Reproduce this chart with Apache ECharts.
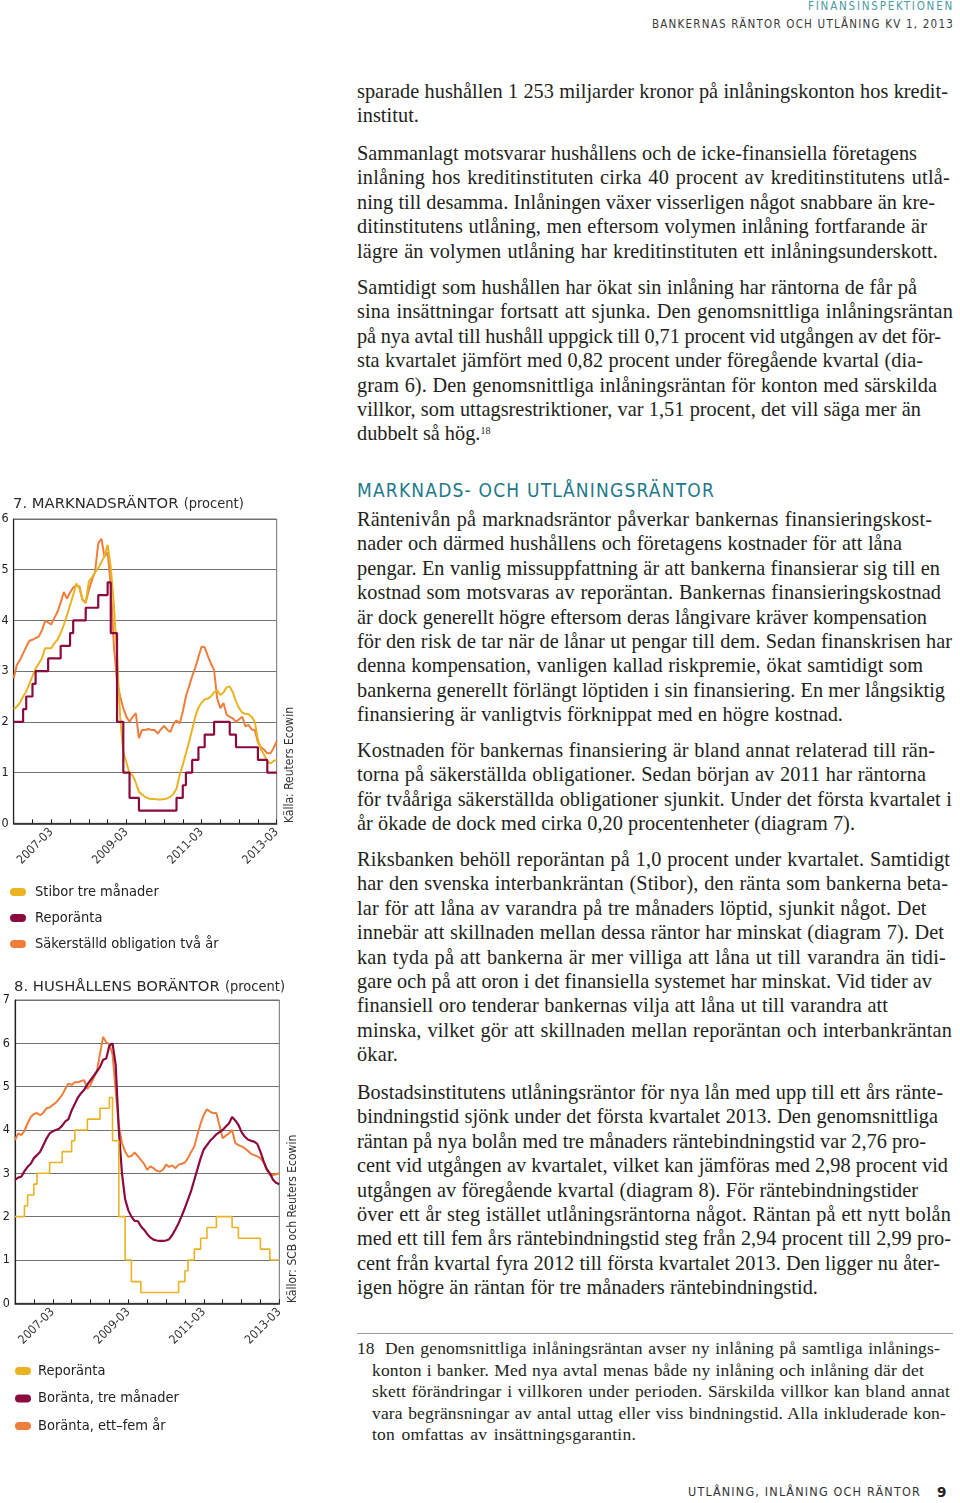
<!DOCTYPE html>
<html><head><meta charset="utf-8">
<script src="https://cdn.jsdelivr.net/npm/echarts@6/dist/echarts.min.js"></script>
<style>
html,body{margin:0;padding:0;background:#fff;}
body{width:960px;height:1503px;position:relative;overflow:hidden;}
.t{position:absolute;white-space:nowrap;}
.t span{display:inline-block;}
.body{font-family:"Liberation Serif","DejaVu Serif",serif;font-size:20.3px;line-height:24px;color:#231f20;}
.foot{font-family:"Liberation Serif","DejaVu Serif",serif;font-size:17.5px;line-height:20px;color:#231f20;}
.hdr1{font-family:"DejaVu Sans Condensed","DejaVu Sans",sans-serif;font-size:11.5px;line-height:14px;color:#4c9aa5;}
.hdr2{font-family:"DejaVu Sans Condensed","DejaVu Sans",sans-serif;font-size:11.5px;line-height:14px;color:#3a3a3a;}
.h2{font-family:"DejaVu Sans Condensed","DejaVu Sans",sans-serif;font-size:19px;line-height:24px;color:#23798b;}
.ftr{font-family:"DejaVu Sans Condensed","DejaVu Sans",sans-serif;font-size:12.5px;line-height:16px;color:#333;}
.ftrb{font-family:"DejaVu Sans","DejaVu Sans Condensed",sans-serif;font-size:13.5px;line-height:16px;color:#222;font-weight:bold;}
sup{font-size:10px;line-height:0;vertical-align:6px;}
#rule{position:absolute;left:357px;top:1333px;width:596px;height:1px;background:#9a9a9a;}
#c7{position:absolute;left:0;top:470px;width:330px;height:500px;}
#c8{position:absolute;left:0;top:965px;width:330px;height:490px;}
</style>
</head>
<body>
<div id="c7"></div>
<div id="c8"></div>
<div id="rule"></div>
<script>
// ---------------- chart data ----------------
const startYear = 2006, startMonth = 3, monthCount = 85; // 2006-03 .. 2013-03
const months = [];
for (let i = 0; i < monthCount; i++) {
  const mm = startMonth - 1 + i;
  const y = startYear + Math.floor(mm / 12);
  const m = (mm % 12) + 1;
  months.push(y + '-' + (m < 10 ? '0' + m : m));
}

// Diagram 7 / Diagram 8 : Reporänta (shared)
const repo = [
  2.0,2.0,2.0,2.25,2.5,2.5,2.75,3.0,3.0,3.0,
  3.0,3.25,3.25,3.25,3.25,3.5,3.5,3.5,3.75,4.0,
  4.0,4.0,4.0,4.25,4.25,4.25,4.25,4.5,4.5,4.5,
  4.75,3.75,3.75,2.0,2.0,1.0,1.0,0.5,0.5,0.5,
  0.25,0.25,0.25,0.25,0.25,0.25,0.25,0.25,0.25,0.25,
  0.25,0.25,0.5,0.5,0.75,1.0,1.0,1.25,1.25,1.5,
  1.5,1.75,1.75,1.75,2.0,2.0,2.0,2.0,2.0,1.75,
  1.75,1.5,1.5,1.5,1.5,1.5,1.5,1.5,1.25,1.25,
  1.25,1.0,1.0,1.0,1.0
];
// Diagram 7 : Stibor tre månader
const stibor3m = [
  2.25,2.3,2.38,2.5,2.6,2.75,2.9,3.05,3.15,3.25,
  3.45,3.45,3.45,3.55,3.62,3.75,3.91,4.1,4.3,4.5,
  4.73,4.63,4.4,4.34,4.77,4.85,4.95,5.03,5.15,5.26,
  5.49,5.05,4.3,3.3,2.1,1.4,1.2,0.98,0.95,0.8,
  0.62,0.57,0.52,0.49,0.48,0.48,0.47,0.47,0.48,0.49,
  0.52,0.58,0.68,0.95,1.15,1.38,1.6,1.85,2.1,2.28,
  2.38,2.44,2.46,2.5,2.58,2.62,2.53,2.58,2.68,2.7,
  2.58,2.4,2.27,2.18,2.16,2.15,2.1,2.0,1.65,1.45,
  1.35,1.22,1.18,1.23,1.25
];
// Diagram 7 : Säkerställd obligation två år
const coveredBond2y = [
  2.86,3.12,3.22,3.35,3.48,3.6,3.62,3.65,3.68,3.8,
  3.99,3.96,3.92,4.05,4.17,4.35,4.56,4.43,4.55,4.65,
  4.69,4.67,4.4,4.36,4.6,4.8,4.96,5.52,5.61,5.26,
  5.34,4.7,3.5,2.8,2.5,2.27,2.1,2.0,2.1,2.17,
  1.68,1.84,1.84,1.86,1.84,1.84,1.77,1.85,1.92,1.85,
  1.8,1.95,2.03,1.97,2.2,2.5,2.7,2.9,3.07,3.28,
  3.48,3.47,3.3,3.15,3.02,2.46,2.27,2.37,2.14,2.1,
  2.07,2.0,2.05,2.1,1.91,1.94,1.85,1.84,1.6,1.5,
  1.45,1.38,1.38,1.48,1.62
];
// Diagram 8 : Boränta, tre månader
const mortgage3m = [
  2.85,2.9,2.92,3.05,3.15,3.22,3.35,3.42,3.5,3.65,
  3.8,3.92,3.97,4.0,4.03,4.1,4.2,4.25,4.45,4.6,
  4.75,4.85,4.93,5.05,5.15,5.25,5.35,5.45,5.62,5.65,
  5.95,6.0,5.5,4.0,3.0,2.4,2.15,2.0,1.9,1.9,
  1.78,1.7,1.6,1.52,1.47,1.45,1.44,1.44,1.45,1.48,
  1.58,1.71,1.85,2.02,2.2,2.4,2.6,2.85,3.1,3.35,
  3.55,3.65,3.75,3.82,3.9,3.95,4.0,4.08,4.15,4.3,
  4.22,4.12,3.95,3.85,3.78,3.75,3.73,3.68,3.5,3.28,
  3.1,3.0,2.85,2.78,2.75
];
// Diagram 8 : Boränta, ett–fem år
const mortgage1to5y = [
  3.77,3.92,3.88,3.98,4.15,4.3,4.37,4.39,4.34,4.4,
  4.5,4.52,4.58,4.63,4.72,4.81,4.95,5.07,5.04,5.1,
  5.1,5.13,5.15,4.95,5.05,5.2,5.35,5.75,6.15,6.02,
  5.98,5.75,4.9,4.1,3.7,3.5,3.38,3.4,3.48,3.4,
  3.31,3.22,3.08,3.16,3.12,3.06,3.04,3.08,3.2,3.15,
  3.18,3.12,3.2,3.22,3.25,3.35,3.5,3.62,3.9,4.15,
  4.35,4.48,4.42,4.39,4.39,4.1,3.81,3.87,3.92,4.0,
  3.7,3.65,3.62,3.58,3.52,3.45,3.42,3.39,3.35,3.25,
  3.08,2.96,2.96,2.98,3.0
];
const yTicks7 = [0, 6, 1];   // min, max, interval
const yTicks8 = [0, 7, 1];

const C_YELLOW = '#E9B322', C_MAROON = '#8C0B3F', C_ORANGE = '#EF7E3D';
const FONT_C = '"DejaVu Sans Condensed","DejaVu Sans",sans-serif';
const PILL = 'path://M4 0H12A4 4 0 0 1 12 8H4A4 4 0 0 1 4 0Z';

function lineSeries(name, data, color, width, step) {
  const s = {
    name: name, type: 'line', data: data, symbol: 'none', silent: true,
    itemStyle: { color: color }, lineStyle: { color: color, width: width },
    emphasis: { disabled: true }
  };
  if (step) s.step = 'end';
  return s;
}

function baseAxes(yt) {
  return {
    xAxis: {
      type: 'category', data: months, boundaryGap: false,
      axisLine: { lineStyle: { color: '#222', width: 1.5 } },
      axisTick: { inside: true, length: 4, interval: (i) => i % 6 === 0, lineStyle: { color: '#222' } },
      axisLabel: { interval: (i) => i % 24 === 12, rotate: 45, fontSize: 12, color: '#333', margin: 7, fontFamily: FONT_C, showMaxLabel: true },
      splitLine: { show: false }
    },
    yAxis: {
      type: 'value', min: yt[0], max: yt[1], interval: yt[2],
      axisLine: { show: true, lineStyle: { color: '#222', width: 1.2 } },
      axisTick: { show: false },
      axisLabel: { fontSize: 12.5, color: '#222', margin: 5, fontFamily: FONT_C },
      splitLine: { lineStyle: { color: '#727272', width: 1 } }
    }
  };
}

function titleRich() {
  return { rich: {
    a: { fontFamily: '"DejaVu Sans",sans-serif', fontSize: 14.8, fontWeight: 'normal', color: '#2b2b2b' },
    b: { fontFamily: FONT_C, fontSize: 14.5, fontWeight: 'normal', color: '#2b2b2b' } },
    fontWeight: 'normal' };
}

// ----- Diagram 7 -----
const c7 = echarts.init(document.getElementById('c7'), null, { renderer: 'canvas' });
const ax7 = baseAxes(yTicks7);
c7.setOption({
  animation: false,
  textStyle: { fontFamily: FONT_C },
  title: { left: 13, top: 25, padding: 0, text: '{a|7. MARKNADSRÄNTOR} {b|(procent)}', textStyle: titleRich() },
  legend: {
    orient: 'vertical', left: 10, top: 414, padding: 0, itemWidth: 16, itemHeight: 8, itemGap: 10,
    icon: PILL, selectedMode: false,
    data: ['Stibor tre månader', 'Reporänta', 'Säkerställd obligation två år'],
    textStyle: { fontSize: 14.5, lineHeight: 16, color: '#222', fontFamily: FONT_C, padding: [0, 0, 0, 4] }
  },
  grid: { left: 13.7, top: 49, width: 263, height: 304.3, show: true, borderColor: '#6e6e6e', borderWidth: 1, outerBoundsMode: 'none' },
  xAxis: ax7.xAxis, yAxis: ax7.yAxis,
  series: [
    lineSeries('Säkerställd obligation två år', coveredBond2y, C_ORANGE, 2),
    lineSeries('Stibor tre månader', stibor3m, C_YELLOW, 2),
    lineSeries('Reporänta', repo, C_MAROON, 2.2, true)
  ],
  graphic: [{
    type: 'text', x: 290, y: 353, rotation: Math.PI / 2, silent: true,
    style: { text: 'Källa: Reuters Ecowin', fontSize: 12, fill: '#333', fontFamily: FONT_C, align: 'left', verticalAlign: 'middle' }
  }]
});

// ----- Diagram 8 -----
const c8 = echarts.init(document.getElementById('c8'), null, { renderer: 'canvas' });
const ax8 = baseAxes(yTicks8);
c8.setOption({
  animation: false,
  textStyle: { fontFamily: FONT_C },
  title: { left: 14, top: 13, padding: 0, text: '{a|8. HUSHÅLLENS BORÄNTOR} {b|(procent)}', textStyle: titleRich() },
  legend: {
    orient: 'vertical', left: 15, top: 398, padding: 0, itemWidth: 16, itemHeight: 8, itemGap: 11.5,
    icon: PILL, selectedMode: false,
    data: ['Reporänta', 'Boränta, tre månader', 'Boränta, ett–fem år'],
    textStyle: { fontSize: 14.5, lineHeight: 16, color: '#222', fontFamily: FONT_C, padding: [0, 0, 0, 2] }
  },
  grid: { left: 15, top: 35, width: 264.3, height: 303.3, show: true, borderColor: '#6e6e6e', borderWidth: 1, outerBoundsMode: 'none' },
  xAxis: ax8.xAxis, yAxis: ax8.yAxis,
  series: [
    lineSeries('Boränta, ett–fem år', mortgage1to5y, C_ORANGE, 2),
    lineSeries('Boränta, tre månader', mortgage3m, C_MAROON, 2.2),
    lineSeries('Reporänta', repo, C_YELLOW, 1.6, true)
  ],
  graphic: [{
    type: 'text', x: 293, y: 338, rotation: Math.PI / 2, silent: true,
    style: { text: 'Källor: SCB och Reuters Ecowin', fontSize: 12, fill: '#333', fontFamily: FONT_C, align: 'left', verticalAlign: 'middle' }
  }]
});

// ---------------- page text ----------------
function place(cls, x, y, lh, text, html, xEnd, mode) {
  const d = document.createElement('div');
  d.className = 't ' + cls;
  const s = document.createElement('span');
  if (html) s.innerHTML = html; else s.textContent = text;
  d.appendChild(s);
  document.body.appendChild(d);
  d.style.top = (y - lh / 2) + 'px';
  d.style.left = x + 'px';
  if (xEnd != null) {
    const target = xEnd - x;
    const plain = s.textContent;
    const n = plain.length;
    const spaces = (plain.match(/ /g) || []).length;
    let nat = s.getBoundingClientRect().width;
    if (mode === 'letter' || spaces === 0) {
      s.style.letterSpacing = ((target - nat) / n) + 'px';
    } else {
      const ls = Math.max(-0.6, Math.min(0.6, (target - nat) * 0.6 / n));
      s.style.letterSpacing = ls + 'px';
      nat = s.getBoundingClientRect().width;
      s.style.wordSpacing = ((target - nat) / spaces) + 'px';
    }
  }
  return d;
}

// header
(function () {
  const a = place('hdr1', 0, 6, 14, 'FINANSINSPEKTIONEN');
  const b = place('hdr2', 0, 24, 14, 'BANKERNAS RÄNTOR OCH UTLÅNING KV 1, 2013');
  [[a, 808, 954], [b, 652, 954]].forEach(([el, x0, x1]) => {
    el.style.left = x0 + 'px';
    const s = el.firstChild, n = s.textContent.length;
    const nat = s.getBoundingClientRect().width;
    s.style.letterSpacing = ((x1 - x0 - nat) / n) + 'px';
  });
})();

const paragraphs = [
  { y: 91, lines: [
    ['sparade hushållen 1 253 miljarder kronor på inlåningskonton hos kredit-', 948],
    ['institut.', 419] ] },
  { y: 153, lines: [
    ['Sammanlagt motsvarar hushållens och de icke-finansiella företagens', 917],
    ['inlåning hos kreditinstituten cirka 40 procent av kreditinstitutens utlå-', 950],
    ['ning till desamma. Inlåningen växer visserligen något snabbare än kre-', 935],
    ['ditinstitutens utlåning, men eftersom volymen inlåning fortfarande är', 927],
    ['lägre än volymen utlåning har kreditinstituten ett inlåningsunderskott.', 938] ] },
  { y: 287, lines: [
    ['Samtidigt som hushållen har ökat sin inlåning har räntorna de får på', 917],
    ['sina insättningar fortsatt att sjunka. Den genomsnittliga inlåningsräntan', 953],
    ['på nya avtal till hushåll uppgick till 0,71 procent vid utgången av det för-', 941],
    ['sta kvartalet jämfört med 0,82 procent under föregående kvartal (dia-', 923],
    ['gram 6). Den genomsnittliga inlåningsräntan för konton med särskilda', 937],
    ['villkor, som uttagsrestriktioner, var 1,51 procent, det vill säga mer än', 921],
    ['dubbelt så hög.', 490, 'dubbelt så hög.<sup>18</sup>'] ] },
  { y: 519, lines: [
    ['Räntenivån på marknadsräntor påverkar bankernas finansieringskost-', 932],
    ['nader och därmed hushållens och företagens kostnader för att låna', 902],
    ['pengar. En vanlig missuppfattning är att bankerna finansierar sig till en', 940],
    ['kostnad som motsvaras av reporäntan. Bankernas finansieringskostnad', 941],
    ['är dock generellt högre eftersom deras långivare kräver kompensation', 927],
    ['för den risk de tar när de lånar ut pengar till dem. Sedan finanskrisen har', 952],
    ['denna kompensation, vanligen kallad riskpremie, ökat samtidigt som', 923],
    ['bankerna generellt förlängt löptiden i sin finansiering. En mer långsiktig', 945],
    ['finansiering är vanligtvis förknippat med en högre kostnad.', 843] ] },
  { y: 750, lines: [
    ['Kostnaden för bankernas finansiering är bland annat relaterad till rän-', 935],
    ['torna på säkerställda obligationer. Sedan början av 2011 har räntorna', 926],
    ['för tvååriga säkerställda obligationer sjunkit. Under det första kvartalet i', 952],
    ['år ökade de dock med cirka 0,20 procentenheter (diagram 7).', 855] ] },
  { y: 859, lines: [
    ['Riksbanken behöll reporäntan på 1,0 procent under kvartalet. Samtidigt', 950],
    ['har den svenska interbankräntan (Stibor), den ränta som bankerna beta-', 948],
    ['lar för att låna av varandra  på tre månaders löptid, sjunkit något. Det', 927],
    ['innebär att skillnaden mellan dessa räntor har minskat (diagram 7). Det', 944],
    ['kan tyda på att bankerna är mer villiga att låna ut till varandra än tidi-', 946],
    ['gare och på att oron i det finansiella systemet har minskat. Vid tider av', 932],
    ['finansiell oro tenderar bankernas vilja att låna ut till varandra att', 888],
    ['minska, vilket gör att skillnaden mellan reporäntan och interbankräntan', 952],
    ['ökar.', 398] ] },
  { y: 1092, lines: [
    ['Bostadsinstitutens utlåningsräntor för nya lån med upp till ett års ränte-', 943],
    ['bindningstid sjönk under det första kvartalet 2013. Den genomsnittliga', 938],
    ['räntan på nya bolån med tre månaders räntebindningstid var 2,76 pro-', 926],
    ['cent vid utgången av kvartalet, vilket kan jämföras med 2,98 procent vid', 948],
    ['utgången av föregående kvartal (diagram 8). För räntebindningstider', 918],
    ['över ett år steg istället utlåningsräntorna något. Räntan på ett nytt bolån', 951],
    ['med ett till fem års räntebindningstid steg från 2,94 procent till 2,99 pro-', 951],
    ['cent från kvartal fyra 2012 till första kvartalet 2013. Den ligger nu åter-', 940],
    ['igen högre än räntan för tre månaders räntebindningstid.', 818] ] }
];
const PITCH = 24.4;
paragraphs.forEach(p => {
  p.lines.forEach((ln, i) => {
    place('body', 357, p.y + i * PITCH, 24, ln[0], ln[2] || null, ln[2] ? null : ln[1], 'mix');
  });
});

// section heading
place('h2', 357, 490, 24, 'MARKNADS- OCH UTLÅNINGSRÄNTOR', null, 715, 'letter');

// footnote
const footLines = [
  [385, 'Den genomsnittliga inlåningsräntan avser ny inlåning på samtliga inlånings-', 940],
  [372, 'konton i banker. Med nya avtal menas både ny inlåning och inlåning där det', 924],
  [372, 'skett förändringar i villkoren under perioden. Särskilda villkor kan bland annat', 950],
  [372, 'vara begränsningar av antal uttag eller viss bindningstid. Alla inkluderade kon-', 946],
  [372, 'ton omfattas av insättningsgarantin.', 636]
];
place('foot', 357, 1348, 20, '18');
footLines.forEach((f, i) => place('foot', f[0], 1348 + i * 21.5, 20, f[1], null, f[2], 'mix'));

// footer
place('ftr', 688, 1492, 16, 'UTLÅNING, INLÅNING OCH RÄNTOR', null, 921, 'letter');
place('ftrb', 937, 1492, 16, '9');
</script>
</body></html>
